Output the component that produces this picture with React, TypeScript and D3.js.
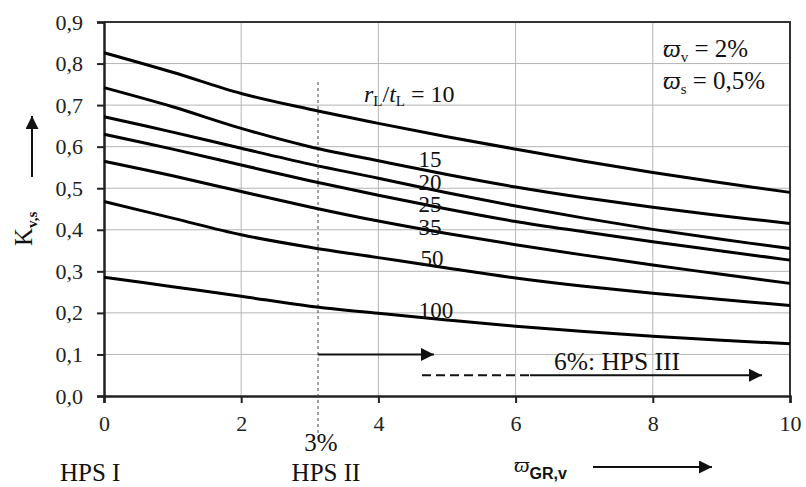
import React, { useEffect, useRef } from 'react';
import * as d3 from 'd3';

// omega_GR,v in %
const X_VALUES = [0, 1, 2, 3, 4, 5, 6, 7, 8, 9, 10];
const RATIOS = ['10', '15', '20', '25', '35', '50', '100'];
const K_10 = [0.826, 0.779, 0.728, 0.69, 0.656, 0.624, 0.594, 0.565, 0.538, 0.513, 0.49];
const K_15 = [0.742, 0.696, 0.644, 0.6, 0.566, 0.533, 0.503, 0.477, 0.454, 0.434, 0.415];
const K_20 = [0.672, 0.635, 0.596, 0.558, 0.524, 0.489, 0.457, 0.428, 0.401, 0.377, 0.355];
const K_25 = [0.63, 0.594, 0.556, 0.518, 0.483, 0.45, 0.42, 0.395, 0.371, 0.349, 0.327];
const K_35 = [0.565, 0.53, 0.492, 0.455, 0.421, 0.391, 0.364, 0.339, 0.315, 0.293, 0.271];
const K_50 = [0.468, 0.428, 0.388, 0.358, 0.333, 0.308, 0.284, 0.264, 0.247, 0.232, 0.218];
const K_100 = [0.286, 0.263, 0.24, 0.216, 0.199, 0.183, 0.168, 0.155, 0.144, 0.134, 0.126];
const SERIES = [K_10, K_15, K_20, K_25, K_35, K_50, K_100];

const X_TICKS = [0, 2, 4, 6, 8, 10];
const Y_TICKS = [0, 0.1, 0.2, 0.3, 0.4, 0.5, 0.6, 0.7, 0.8, 0.9];
const HPS_II_LIMIT = 3.12;

const W = 806;
const H = 487;
const SERIF = '"Liberation Serif", "DejaVu Serif", serif';

const App = () => {
  const svgRef = useRef<SVGSVGElement>(null);

  useEffect(() => {
    const svg = d3.select(svgRef.current).attr('width', W).attr('height', H);
    svg.selectAll('*').remove();

    const x = d3.scaleLinear().domain([0, 10]).range([104, 790]);
    const y = d3.scaleLinear().domain([0, 0.9]).range([396, 22]);

    const defs = svg.append('defs');
    defs
      .append('marker')
      .attr('id', 'head')
      .attr('viewBox', '0 0 10 10')
      .attr('refX', 10)
      .attr('refY', 5)
      .attr('markerWidth', 13)
      .attr('markerHeight', 6.5)
      .attr('markerUnits', 'strokeWidth')
      .attr('orient', 'auto')
      .append('path')
      .attr('d', 'M0,0 L10,5 L0,10 Z')
      .attr('fill', '#111');

    // grid
    const grid = svg.append('g').attr('stroke', '#b5b5b5').attr('stroke-width', 1);
    grid
      .selectAll('line.h')
      .data(Y_TICKS.slice(1))
      .enter()
      .append('line')
      .attr('x1', x(0))
      .attr('x2', x(10))
      .attr('y1', (d) => y(d))
      .attr('y2', (d) => y(d));
    grid
      .selectAll('line.v')
      .data(X_TICKS.slice(1, -1))
      .enter()
      .append('line')
      .attr('x1', (d) => x(d))
      .attr('x2', (d) => x(d))
      .attr('y1', y(0))
      .attr('y2', y(0.9));

    // frame top / right
    svg
      .append('path')
      .attr('d', `M${x(0)},${y(0.9)} H${x(10)} V${y(0)}`)
      .attr('fill', 'none')
      .attr('stroke', '#333')
      .attr('stroke-width', 2);

    // axes
    const yAxis = svg
      .append('g')
      .attr('transform', `translate(${x(0)},0)`)
      .call(
        d3
          .axisLeft(y)
          .tickValues(Y_TICKS)
          .tickSize(7)
          .tickPadding(14)
          .tickFormat((d) => d3.format('.1f')(d as number).replace('.', ','))
      );
    const xAxis = svg
      .append('g')
      .attr('transform', `translate(0,${y(0)})`)
      .call(d3.axisBottom(x).tickValues(X_TICKS).tickSize(7).tickPadding(12).tickFormat(d3.format('d')));
    [yAxis, xAxis].forEach((a) => {
      a.select('.domain').attr('stroke', '#222').attr('stroke-width', 2.5);
      a.selectAll('.tick line').attr('stroke', '#222').attr('stroke-width', 2);
      a.selectAll('.tick text').attr('font-family', SERIF).attr('font-size', 22).attr('fill', '#222');
    });

    // dashed limit line at 3%
    svg
      .append('line')
      .attr('x1', x(HPS_II_LIMIT))
      .attr('x2', x(HPS_II_LIMIT))
      .attr('y1', 82)
      .attr('y2', 440)
      .attr('stroke', '#444')
      .attr('stroke-width', 1)
      .attr('stroke-dasharray', '3,3');

    // curves
    const line = d3
      .line<number>()
      .x((_, i) => x(X_VALUES[i]))
      .y((d) => y(d))
      .curve(d3.curveCatmullRom);
    svg
      .append('g')
      .selectAll('path')
      .data(SERIES)
      .enter()
      .append('path')
      .attr('d', (d) => line(d))
      .attr('fill', 'none')
      .attr('stroke', '#000')
      .attr('stroke-width', 3);

    // curve labels (crowded on purpose, as in the source figure)
    const labelPos = [
      [0, 0],
      [430, 167],
      [430, 190],
      [430, 212],
      [430, 235],
      [432, 266],
      [436, 318],
    ];
    const labels = svg.append('g').attr('font-family', SERIF).attr('font-size', 23).attr('fill', '#111');
    labels
      .selectAll('text')
      .data(RATIOS.slice(1))
      .enter()
      .append('text')
      .attr('x', (_, i) => labelPos[i + 1][0])
      .attr('y', (_, i) => labelPos[i + 1][1])
      .attr('text-anchor', 'middle')
      .text((d) => d);

    const rt = labels.append('text').attr('x', 364).attr('y', 102).attr('font-size', 24);
    rt.append('tspan').attr('font-style', 'italic').text('r');
    rt.append('tspan').attr('font-size', 15).attr('dy', 4).text('L');
    rt.append('tspan').attr('dy', -4).text('/');
    rt.append('tspan').attr('font-style', 'italic').text('t');
    rt.append('tspan').attr('font-size', 15).attr('dy', 4).text('L');
    rt.append('tspan').attr('dy', -4).text(' = ' + RATIOS[0]);

    // parameters top right
    const params = [
      ['v', '2%', 57],
      ['s', '0,5%', 89],
    ];
    params.forEach(([sub, val, yy]) => {
      const t = labels.append('text').attr('x', 663).attr('y', yy as number).attr('font-size', 25);
      t.append('tspan').attr('font-style', 'italic').text('ϖ');
      t.append('tspan').attr('font-size', 15).attr('dy', 5).text(sub as string);
      t.append('tspan').attr('dy', -5).text(' = ' + val);
    });

    // HPS arrows
    svg
      .append('line')
      .attr('x1', x(HPS_II_LIMIT))
      .attr('x2', 434)
      .attr('y1', y(0.1))
      .attr('y2', y(0.1))
      .attr('stroke', '#111')
      .attr('stroke-width', 2)
      .attr('marker-end', 'url(#head)');
    svg
      .append('line')
      .attr('x1', 422)
      .attr('x2', 530)
      .attr('y1', y(0.05))
      .attr('y2', y(0.05))
      .attr('stroke', '#111')
      .attr('stroke-width', 2)
      .attr('stroke-dasharray', '9,5');
    svg
      .append('line')
      .attr('x1', 530)
      .attr('x2', 762)
      .attr('y1', y(0.05))
      .attr('y2', y(0.05))
      .attr('stroke', '#111')
      .attr('stroke-width', 2)
      .attr('marker-end', 'url(#head)');
    labels.append('text').attr('x', 554).attr('y', 370).attr('font-size', 25.5).text('6%: HPS III');

    // bottom annotations
    labels.append('text').attr('x', 321).attr('y', 451).attr('text-anchor', 'middle').attr('font-size', 25).text('3%');
    labels.append('text').attr('x', 326).attr('y', 481).attr('text-anchor', 'middle').attr('font-size', 25).text('HPS II');
    labels.append('text').attr('x', 60).attr('y', 481).attr('font-size', 25).text('HPS I');

    const xl = labels.append('text').attr('x', 514).attr('y', 472).attr('font-size', 22);
    xl.append('tspan').attr('font-style', 'italic').text('ϖ');
    xl
      .append('tspan')
      .attr('font-family', '"Liberation Sans", Arial, sans-serif')
      .attr('font-weight', 'bold')
      .attr('font-size', 16)
      .attr('dy', 7)
      .text('GR,v');
    svg
      .append('line')
      .attr('x1', 593)
      .attr('x2', 712)
      .attr('y1', 467)
      .attr('y2', 467)
      .attr('stroke', '#111')
      .attr('stroke-width', 2)
      .attr('marker-end', 'url(#head)');

    // y label
    const yl = labels.append('text').attr('transform', 'translate(32,246) rotate(-90)').attr('font-size', 25);
    yl.append('tspan').text('K');
    yl.append('tspan').attr('font-size', 15).attr('font-weight', 'bold').attr('dy', 5).text('v,s');
    svg
      .append('line')
      .attr('x1', 32)
      .attr('x2', 32)
      .attr('y1', 177)
      .attr('y2', 116)
      .attr('stroke', '#111')
      .attr('stroke-width', 2)
      .attr('marker-end', 'url(#head)');
  }, []);

  return <svg ref={svgRef} style={{ position: 'absolute', left: 0, top: 0, background: '#fff' }}></svg>;
};

export default App;
